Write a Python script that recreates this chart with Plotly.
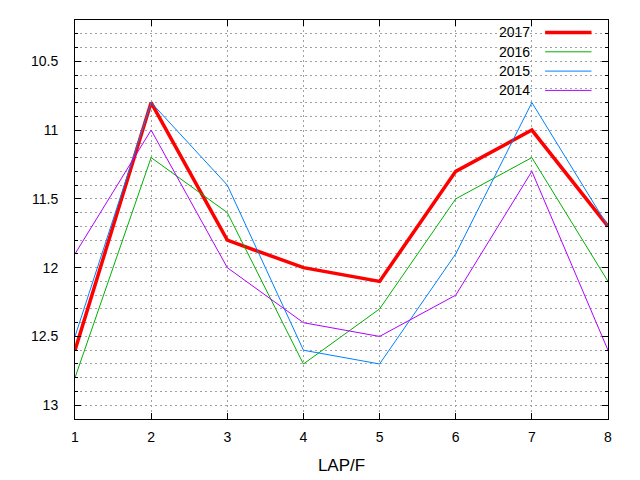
import plotly.graph_objects as go

laps = [1, 2, 3, 4, 5, 6, 7, 8]
years = ["2017", "2016", "2015", "2014"]
t2017 = [12.6, 10.8, 11.8, 12.0, 12.1, 11.3, 11.0, 11.7]
t2016 = [12.8, 11.2, 11.6, 12.7, 12.3, 11.5, 11.2, 12.1]
t2015 = [12.5, 10.8, 11.4, 12.6, 12.7, 11.9, 10.8, 11.7]
t2014 = [11.9, 11.0, 12.0, 12.4, 12.5, 12.2, 11.3, 12.6]

series = [t2017, t2016, t2015, t2014]
colors = ["#ff0000", "#00b000", "#0080ff", "#b000ff"]
widths = [3.5, 1, 1, 1]

fig = go.Figure()
for name, ys, c, w in zip(years, series, colors, widths):
    fig.add_trace(go.Scatter(x=laps, y=ys, name=name, mode="lines",
                             line=dict(color=c, width=w)))

# key drawn gnuplot-style: label on the left, sample on the right
fig.add_shape(type="rect", xref="paper", yref="paper",
              x0=0.79, x1=0.985, y0=0.80, y1=1.0,
              fillcolor="white", line_width=0, layer="between")
for i, (name, c, w) in enumerate(zip(years, colors, widths)):
    yk = 1 - (12.5 + i * 19.3) / 399
    fig.add_annotation(xref="paper", yref="paper", x=0.857, y=yk,
                       text=name, showarrow=False, xanchor="right",
                       yanchor="middle", font=dict(size=14, color="#000"))
    fig.add_shape(type="line", xref="paper", yref="paper",
                  x0=0.882, x1=0.969, y0=yk, y1=yk,
                  line=dict(color=c, width=w))

grid = dict(showgrid=True, gridcolor="#a0a0a0", gridwidth=1, griddash="2px,3px")

fig.update_xaxes(range=[1, 8], tickvals=laps, ticks="inside", ticklen=6,
                 tickcolor="black", showline=True, linecolor="black",
                 mirror="ticks", zeroline=False, title_text="LAP/F",
                 ticklabelstandoff=5, title_standoff=15, **grid)
fig.update_yaxes(range=[13.1, 10.2], tick0=10.5, dtick=0.5, ticks="inside",
                 ticklen=6, tickcolor="black", showline=True,
                 linecolor="black", mirror="ticks", zeroline=False,
                 ticklabelstandoff=13,
                 minor=dict(dtick=0.1, tick0=10.5, ticks="inside", ticklen=3,
                            tickcolor="black", showgrid=True,
                            gridcolor="#a0a0a0", griddash="2px,3px"),
                 **grid)

# the page body adds 8px, so margins are shifted to compensate
fig.update_layout(
    width=640, height=480,
    margin=dict(l=67, r=40, t=12, b=69),
    showlegend=False,
    plot_bgcolor="white", paper_bgcolor="white",
    font=dict(family="Liberation Sans", size=14, color="black"),
)

fig.write_html("out.html", config={"displayModeBar": False})
